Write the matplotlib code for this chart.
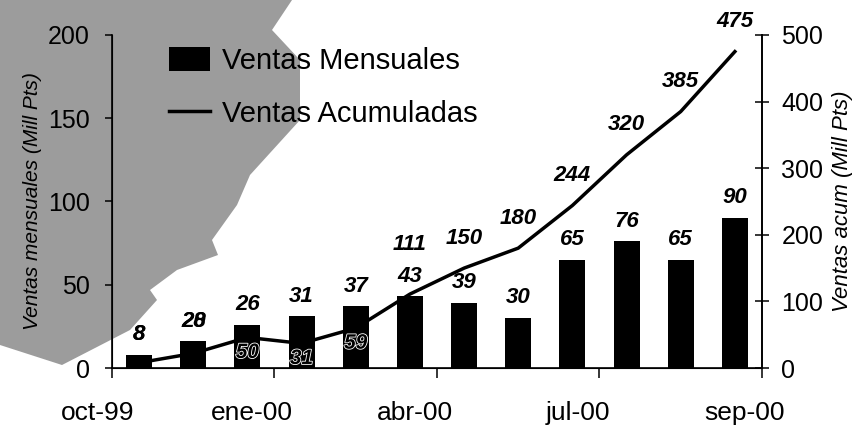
import numpy as np
import matplotlib
matplotlib.use('Agg')
import matplotlib.pyplot as plt
from matplotlib.patches import Polygon
import matplotlib.patheffects as pe
import matplotlib.transforms as mtransforms

plt.rcParams['font.family'] = ['Liberation Sans', 'DejaVu Sans']

# datos
meses = ['oct-99', 'nov-99', 'dic-99', 'ene-00', 'feb-00', 'mar-00',
         'abr-00', 'may-00', 'jun-00', 'jul-00', 'ago-00', 'sep-00']
ventas_mensuales = [8, 16, 26, 31, 37, 43, 39, 30, 65, 76, 65, 90]
etiquetas_mensuales = ['8', '20', '26', '31', '37', '43', '39', '30', '65', '76', '65', '90']
ventas_acumuladas = [8, 22, 46, 37, 60, 111, 150, 180, 244, 320, 385, 475]
etiquetas_acumuladas = ['8', '28', '50', '31', '59', '111', '150', '180', '244', '320', '385', '475']
etiquetas_x = ['oct-99', 'ene-00', 'abr-00', 'jul-00', 'sep-00']
pos_etiquetas_x = [-0.76, 2.08, 5.09, 8.1, 11.17]

fig = plt.figure(figsize=(8.64, 4.26), dpi=100)
ax = fig.add_axes([0.1296, 0.136, 0.7523, 0.782])
ax.set_facecolor('none')

# sombra gris del escaneado (arriba a la izquierda)
px = [(0, 0), (292, 0), (272, 30), (300, 60), (300, 120), (250, 175), (237, 205),
      (212, 240), (218, 255), (177, 270), (150, 290), (157, 300), (130, 330),
      (62, 365), (0, 345)]
sombra = Polygon([(a / 864, 1 - b / 426) for a, b in px], closed=True,
                 transform=fig.transFigure, facecolor='#9c9c9c', edgecolor='none',
                 zorder=-1)
fig.patches.append(sombra)

x = np.arange(len(meses))
barras = ax.bar(x, ventas_mensuales, width=0.48, color='black', label='Ventas Mensuales')
ax.set_xlim(-0.5, len(meses) - 0.5)
ax.set_ylim(0, 200)
ax.set_yticks([0, 50, 100, 150, 200])
ax.tick_params(axis='y', labelsize=18, direction='out', length=5, width=1.1, pad=11)
ax.set_ylabel('Ventas mensuales (Mill Pts)', fontsize=15, style='italic', labelpad=4)

ax.set_xticks(np.arange(-0.5, len(meses), 3))
ax.set_xticklabels([])
ax.tick_params(axis='x', which='major', direction='out', length=7, width=1.1)
trans = mtransforms.blended_transform_factory(ax.transData, ax.transAxes)
for px_, lab in zip(pos_etiquetas_x, etiquetas_x):
    ax.text(px_, -0.135, lab, transform=trans, ha='center', va='center',
            fontsize=19, clip_on=False)

ax.spines['top'].set_visible(False)
for sp in ['left', 'bottom', 'right']:
    ax.spines[sp].set_linewidth(1.2)

for xi, v, t in zip(x, ventas_mensuales, etiquetas_mensuales):
    ax.annotate(t, (xi, v), xytext=(0, 7), textcoords='offset points',
                ha='center', va='bottom', fontsize=16, fontweight='bold', style='italic')

ax2 = ax.twinx()
ax2.set_ylim(0, 500)
ax2.set_yticks([0, 100, 200, 300, 400, 500])
ax2.tick_params(axis='y', labelsize=18, direction='inout', length=10, width=1.1, pad=9)
ax2.set_ylabel('Ventas acum (Mill Pts)', fontsize=16, style='italic', labelpad=6)
ax2.spines['top'].set_visible(False)
ax2.spines['right'].set_linewidth(1.2)
linea, = ax2.plot(x, ventas_acumuladas, color='black', lw=2.5, label='Ventas Acumuladas')

# etiquetas de la linea: las dos primeras caen encima de las de las barras,
# las tres siguientes dentro de las barras, el resto por encima de la linea
extra = {5: 14}
for i, (xi, v, t) in enumerate(zip(x, ventas_acumuladas, etiquetas_acumuladas)):
    if i < 2:
        ax.annotate(t, (xi, ventas_mensuales[i]), xytext=(0, 7), textcoords='offset points',
                    ha='center', va='bottom', fontsize=16, fontweight='bold', style='italic')
    elif v < 100:
        ax2.annotate(t, (xi, v), xytext=(0, -4), textcoords='offset points',
                     ha='center', va='top', fontsize=15, fontweight='bold', style='italic',
                     color='black',
                     path_effects=[pe.withStroke(linewidth=1.2, foreground='white')])
    else:
        ax2.annotate(t, (xi, v), xytext=(0, 14 + extra.get(i, 0)), textcoords='offset points',
                     ha='center', va='bottom', fontsize=16, fontweight='bold', style='italic')

ax.legend([barras, linea], ['Ventas Mensuales', 'Ventas Acumuladas'],
          loc='upper left', bbox_to_anchor=(0.066, 1.009), frameon=False,
          fontsize=21, handlelength=1.4, handleheight=0.9, handletextpad=0.4,
          labelspacing=0.85, borderpad=0)

fig.savefig('out.png', dpi=100)
